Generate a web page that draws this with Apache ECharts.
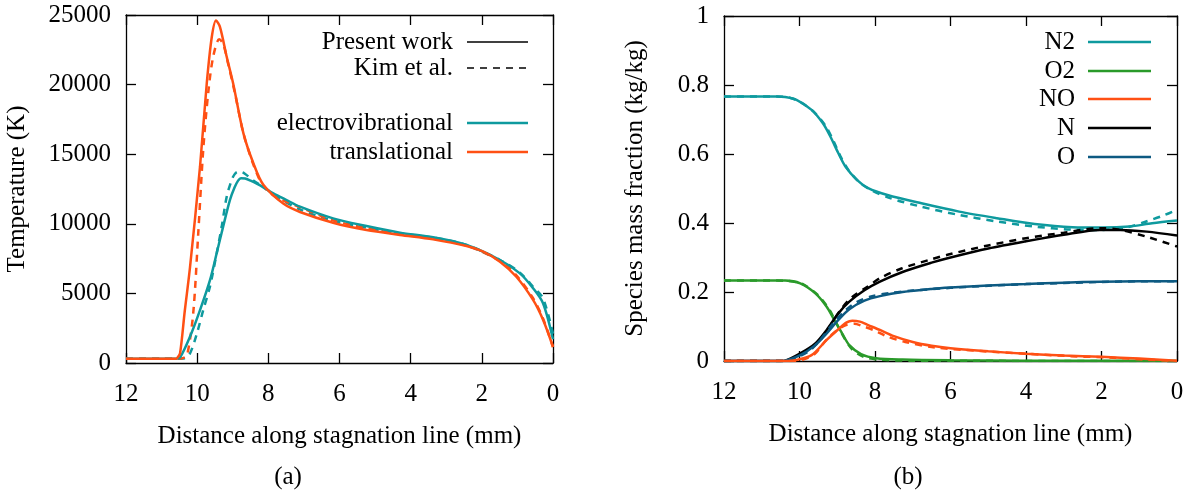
<!DOCTYPE html>
<html>
<head>
<meta charset="utf-8">
<script src="https://cdn.jsdelivr.net/npm/echarts@6/dist/echarts.min.js"></script>
<style>
html, body { margin: 0; padding: 0; background: #fff; }
#chart { width: 1192px; height: 493px; }
</style>
</head>
<body>
<div id="chart"></div>
<script>
// (a) temperature along stagnation line, x in mm
var transX = [12, 11, 10.6, 10.55, 10.48, 10.35, 10.2, 9.92, 9.73, 9.59, 9.47, 9.36, 9.17, 8.99, 8.7, 8.42, 8.14, 7.58, 7.11, 6.18, 5.24, 4.3, 3.37, 2.43, 1.96, 1.49, 1.03, 0.56, 0.28, 0];
var transT = [300, 300, 300, 400, 700, 3700, 6900, 14100, 20100, 23400, 24600, 24150, 22000, 20100, 16500, 14350, 12800, 11450, 10850, 10080, 9550, 9200, 8880, 8400, 8000, 7280, 6200, 4530, 3100, 1150];
var vibX = [12, 11, 10.6, 10.48, 10.2, 9.92, 9.64, 9.45, 9.27, 9.08, 8.95, 8.85, 8.77, 8.65, 8.5, 8.3, 8.14, 7.86, 7.49, 7.11, 6.18, 5.24, 4.3, 3.37, 2.43, 1.49, 0.93, 0.56, 0.28, 0];
var vibT = [300, 300, 300, 400, 1900, 3800, 5950, 7900, 9800, 11700, 12600, 13100, 13280, 13250, 13100, 12850, 12620, 12190, 11710, 11230, 10390, 9840, 9360, 9030, 8480, 7400, 6440, 5370, 4290, 1700];
var transKimX = [12, 11, 10.6, 10.4, 10.28, 10.11, 9.97, 9.83, 9.69, 9.55, 9.38, 9.27, 9.13, 8.94, 8.7, 8.42, 8.14, 7.77, 7.11, 6.18, 5.24, 4.3, 3.37, 2.43, 1.49, 1.03, 0.56, 0.28, 0];
var transKimT = [300, 300, 300, 350, 600, 3600, 9300, 15300, 19400, 22000, 23250, 22950, 21500, 19400, 16500, 14250, 12700, 11900, 11200, 10250, 9680, 9260, 8940, 8430, 7330, 6300, 4650, 3200, 1150];
var vibKimX = [12, 11, 10.6, 10.4, 10.22, 10.01, 9.83, 9.64, 9.45, 9.31, 9.17, 9.03, 8.95, 8.87, 8.77, 8.66, 8.38, 8.14, 7.77, 7.11, 6.18, 5.24, 4.3, 3.37, 2.43, 1.49, 0.93, 0.56, 0.28, 0];
var vibKimT = [300, 300, 300, 320, 600, 2100, 3800, 5500, 7900, 9800, 11950, 13150, 13550, 13720, 13720, 13600, 13030, 12670, 11950, 11040, 10220, 9720, 9310, 9010, 8480, 7400, 6490, 5480, 4650, 2100];

// (b) species mass fractions
var n2X = [12, 10.6, 10.38, 10.08, 9.68, 9.38, 9.18, 8.97, 8.78, 8.48, 8.18, 7.67, 6.77, 5.77, 4.77, 3.77, 2.77, 1.97, 1.26, 0.66, 0];
var n2Y = [0.767, 0.767, 0.765, 0.757, 0.728, 0.689, 0.65, 0.602, 0.563, 0.525, 0.501, 0.481, 0.457, 0.433, 0.414, 0.397, 0.388, 0.387, 0.39, 0.399, 0.407];
var n2KimX = [12, 10.6, 10.3, 10.0, 9.6, 9.3, 9.1, 8.9, 8.7, 8.4, 8.1, 7.6, 6.8, 5.8, 4.8, 3.8, 2.8, 2.0, 1.3, 0.8, 0.4, 0];
var n2KimY = [0.767, 0.767, 0.764, 0.752, 0.72, 0.68, 0.638, 0.59, 0.553, 0.517, 0.495, 0.472, 0.448, 0.424, 0.405, 0.39, 0.381, 0.38, 0.388, 0.405, 0.42, 0.438];
var o2X = [12, 10.6, 10.38, 9.98, 9.58, 9.28, 9.08, 8.87, 8.68, 8.37, 7.97, 7.27, 6, 4, 0];
var o2Y = [0.233, 0.233, 0.233, 0.225, 0.196, 0.157, 0.119, 0.08, 0.046, 0.02, 0.008, 0.004, 0.002, 0.001, 0];
var o2KimX = [12, 10.6, 10.3, 9.9, 9.5, 9.2, 9.0, 8.8, 8.6, 8.3, 7.9, 7, 0];
var o2KimY = [0.233, 0.233, 0.232, 0.222, 0.19, 0.147, 0.105, 0.064, 0.033, 0.012, 0.004, 0.001, 0];
var noX = [12, 10.3, 10.08, 9.68, 9.28, 8.97, 8.75, 8.6, 8.4, 8.18, 7.87, 7.5, 7.0, 6.5, 6.0, 5.0, 4.0, 3.0, 2.0, 1.0, 0];
var noY = [0, 0, 0.003, 0.017, 0.061, 0.092, 0.112, 0.117, 0.114, 0.104, 0.09, 0.072, 0.055, 0.044, 0.037, 0.028, 0.021, 0.016, 0.012, 0.007, 0.001];
var noKimX = [12, 10.2, 9.9, 9.6, 9.3, 9.0, 8.75, 8.55, 8.3, 8.0, 7.7, 7.2, 6.4, 5.2, 4, 2.8, 1.8, 0.8, 0];
var noKimY = [0, 0, 0.004, 0.02, 0.06, 0.09, 0.105, 0.108, 0.1, 0.088, 0.072, 0.055, 0.039, 0.029, 0.021, 0.014, 0.01, 0.004, 0];
var nX = [12, 10.5, 10.38, 9.98, 9.58, 9.28, 8.97, 8.68, 8.28, 7.87, 7.27, 6.5, 6.0, 5.0, 4.0, 3.0, 2.04, 1.5, 0.8, 0];
var nY = [0, 0, 0.001, 0.022, 0.051, 0.09, 0.138, 0.172, 0.205, 0.23, 0.258, 0.285, 0.3, 0.326, 0.347, 0.366, 0.38, 0.38, 0.375, 0.364];
var nKimX = [12, 10.4, 10.2, 9.9, 9.5, 9.2, 8.9, 8.6, 8.2, 7.87, 7.3, 6.5, 6.0, 5.0, 4.0, 3.0, 2.04, 1.5, 0.8, 0];
var nKimY = [0, 0, 0.003, 0.022, 0.055, 0.1, 0.15, 0.186, 0.215, 0.24, 0.268, 0.295, 0.31, 0.335, 0.356, 0.372, 0.385, 0.38, 0.36, 0.332];
var oX = [12, 10.5, 10.38, 9.98, 9.58, 9.28, 8.97, 8.68, 8.28, 7.87, 7.27, 6.5, 6.0, 5.0, 4.0, 3.0, 2.0, 1.0, 0];
var oY = [0, 0, 0.001, 0.017, 0.046, 0.08, 0.119, 0.15, 0.175, 0.188, 0.2, 0.209, 0.213, 0.219, 0.223, 0.227, 0.23, 0.231, 0.231];
var oKimX = [12, 10.4, 10.1, 9.7, 9.4, 9.1, 8.8, 8.5, 8.1, 7.6, 7.0, 6.0, 5.0, 4.0, 3.0, 2.0, 1.0, 0];
var oKimY = [0, 0, 0.008, 0.033, 0.068, 0.11, 0.145, 0.17, 0.187, 0.197, 0.204, 0.212, 0.218, 0.223, 0.226, 0.229, 0.231, 0.231];

var xTicks = [0, 2, 4, 6, 8, 10, 12];
var tempTicks = [0, 5000, 10000, 15000, 20000, 25000];
var fracTicks = [0, 0.2, 0.4, 0.6, 0.8, 1];

var TEAL = '#0e9a9e';
var ORANGE = '#ff5014';
var GREEN = '#2a9a2a';
var BLUE = '#0d5a82';
var BLACK = '#000000';
var FONT = 'Liberation Serif';
var FS = 25;

function zip(xs, ys) {
    return xs.map(function (x, i) { return [x, ys[i]]; });
}

function xAx(grid, top) {
    return {
        type: 'value', gridIndex: grid, position: top ? 'top' : 'bottom',
        min: xTicks[0], max: xTicks[xTicks.length - 1], interval: 2, inverse: true,
        axisLine: { show: true, onZero: false, lineStyle: { color: '#000', width: 1.3 } },
        axisTick: { show: true, inside: true, length: 10, lineStyle: { color: '#000', width: 1.3 } },
        axisLabel: { show: !top, margin: 19, color: '#000', fontFamily: FONT, fontSize: FS },
        splitLine: { show: false },
        name: top ? '' : 'Distance along stagnation line (mm)',
        nameLocation: 'middle', nameGap: 61,
        nameTextStyle: { color: '#000', fontFamily: FONT, fontSize: FS }
    };
}

function yAx(grid, right, ticks, name, gap) {
    return {
        type: 'value', gridIndex: grid, position: right ? 'right' : 'left',
        min: ticks[0], max: ticks[ticks.length - 1], interval: ticks[1] - ticks[0],
        axisLine: { show: true, onZero: false, lineStyle: { color: '#000', width: 1.3 } },
        axisTick: { show: true, inside: true, length: 10, lineStyle: { color: '#000', width: 1.3 } },
        axisLabel: {
            show: !right, margin: 15, color: '#000', fontFamily: FONT, fontSize: FS,
            formatter: function (v) { return String(v); }
        },
        splitLine: { show: false },
        name: right ? '' : name,
        nameLocation: 'middle', nameGap: gap,
        nameTextStyle: { color: '#000', fontFamily: FONT, fontSize: FS }
    };
}

function line(xi, yi, xs, ys, color, dashed) {
    return {
        type: 'line', xAxisIndex: xi, yAxisIndex: yi,
        data: zip(xs, ys), showSymbol: false, symbol: 'none',
        smooth: 0.3, silent: true,
        lineStyle: { color: color, width: 2.5, type: dashed ? [7, 6] : 'solid' }
    };
}

function label(x, y, text, align) {
    return { type: 'text', x: x, y: y,
        style: { text: text, fill: '#000', fontFamily: FONT, fontSize: FS, align: align, verticalAlign: 'middle' } };
}

function legendRow(textX, lineX1, lineX2, y, text, color, dashed, w) {
    return [
        label(textX, y, text, 'right'),
        { type: 'line', shape: { x1: lineX1, y1: y, x2: lineX2, y2: y },
          style: { stroke: color, lineWidth: w, lineDash: dashed ? [7, 6] : null } }
    ];
}

var chart = echarts.init(document.getElementById('chart'));

var graphics = [].concat(
    legendRow(453, 467, 528, 42, 'Present work', BLACK, false, 1.4),
    legendRow(453, 467, 528, 68, 'Kim et al.', BLACK, true, 1.4),
    legendRow(453, 467, 528, 123, 'electrovibrational', TEAL, false, 2.5),
    legendRow(453, 467, 528, 152, 'translational', ORANGE, false, 2.5),
    legendRow(1075, 1088, 1151, 42, 'N2', TEAL, false, 2.5),
    legendRow(1075, 1088, 1151, 71, 'O2', GREEN, false, 2.5),
    legendRow(1075, 1088, 1151, 99, 'NO', ORANGE, false, 2.5),
    legendRow(1075, 1088, 1151, 128, 'N', BLACK, false, 2.5),
    legendRow(1075, 1088, 1151, 157, 'O', BLUE, false, 2.5),
    [label(288, 477, '(a)', 'center'), label(908, 477, '(b)', 'center')]
);

chart.setOption({
    animation: false,
    backgroundColor: '#fff',
    grid: [
        { left: 126, top: 15, width: 427, height: 348 },
        { left: 724, top: 16, width: 453, height: 345 }
    ],
    xAxis: [xAx(0, false), xAx(0, true), xAx(1, false), xAx(1, true)],
    yAxis: [
        yAx(0, false, tempTicks, 'Temperature (K)', 96),
        yAx(0, true, tempTicks, '', 0),
        yAx(1, false, fracTicks, 'Species mass fraction (kg/kg)', 76),
        yAx(1, true, fracTicks, '', 0)
    ],
    series: [
        line(0, 0, vibKimX, vibKimT, TEAL, true),
        line(0, 0, transKimX, transKimT, ORANGE, true),
        line(0, 0, vibX, vibT, TEAL, false),
        line(0, 0, transX, transT, ORANGE, false),

        line(2, 2, o2KimX, o2KimY, GREEN, true),
        line(2, 2, o2X, o2Y, GREEN, false),
        line(2, 2, n2KimX, n2KimY, TEAL, true),
        line(2, 2, n2X, n2Y, TEAL, false),
        line(2, 2, nKimX, nKimY, BLACK, true),
        line(2, 2, nX, nY, BLACK, false),
        line(2, 2, oKimX, oKimY, BLUE, true),
        line(2, 2, oX, oY, BLUE, false),
        line(2, 2, noKimX, noKimY, ORANGE, true),
        line(2, 2, noX, noY, ORANGE, false)
    ],
    graphic: graphics
});
</script>
</body>
</html>
